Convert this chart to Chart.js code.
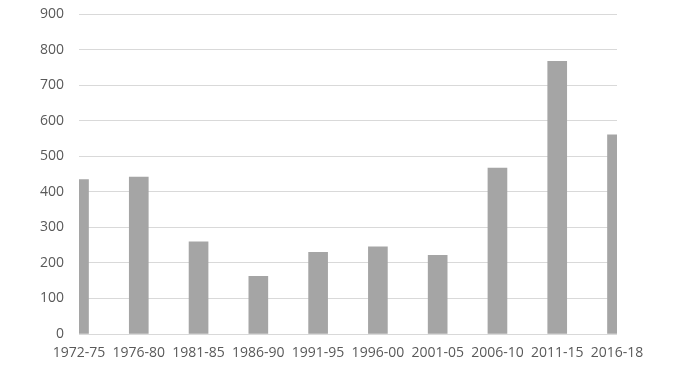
<!DOCTYPE html>
<html>
<head>
<meta charset="utf-8">
<script src="https://cdn.jsdelivr.net/npm/chart.js@4"></script>
<style>
    html, body { margin: 0; padding: 0; background: #ffffff; }
    #wrap { width: 689px; height: 382px; }
</style>
</head>
<body>
<div id="wrap"><canvas id="periods-chart" width="689" height="382"></canvas></div>
<script>
// DATA  -----------------------------------------------------------------------
const periods = ['1972-75', '1976-80', '1981-85', '1986-90', '1991-95',
                 '1996-00', '2001-05', '2006-10', '2011-15', '2016-18'];
const counts = [434, 441, 259, 162, 230, 245, 221, 467, 767, 560];
const yTicks = [0, 100, 200, 300, 400, 500, 600, 700, 800, 900];

const barColor = '#a5a5a5';
const gridColor = '#d9d9d9';
const textColor = '#595959';

function initializeChart() {
    const canvas = document.getElementById('periods-chart');
    const ctx = canvas.getContext('2d');

    new Chart(ctx, {
        type: 'bar',
        data: {
            labels: periods,
            datasets: [{
                label: '',
                data: counts,
                backgroundColor: barColor,
                borderWidth: 0,
                barThickness: 19,
                clip: 0 // bars at the ends are cut by the plot edge
            }]
        },
        options: {
            responsive: false,
            animation: false,
            layout: {
                padding: { top: 14, right: 72, bottom: 0, left: 0 }
            },
            scales: {
                x: {
                    offset: false,
                    grid: { display: false, drawTicks: false },
                    border: { display: false },
                    ticks: {
                        color: textColor,
                        padding: 11,
                        maxRotation: 0,
                        autoSkip: false,
                        font: { family: 'Open Sans', size: 14 }
                    },
                    afterFit: function (scale) { scale.height = 48; }
                },
                y: {
                    min: 0,
                    max: 900,
                    afterBuildTicks: function (scale) {
                        scale.ticks = yTicks.map(v => ({ value: v }));
                    },
                    grid: { color: gridColor, lineWidth: 1, drawTicks: false },
                    border: { display: false },
                    ticks: {
                        color: textColor,
                        padding: 15,
                        font: { family: 'Open Sans', size: 14 }
                    },
                    afterFit: function (scale) {
                        scale.width = 79;
                        // tick padding should not push the plot down
                        scale.paddingTop = 0;
                        scale.paddingBottom = 0;
                    }
                }
            },
            plugins: {
                legend: { display: false },
                tooltip: { enabled: false }
            }
        }
    });
}

initializeChart();
</script>
</body>
</html>
